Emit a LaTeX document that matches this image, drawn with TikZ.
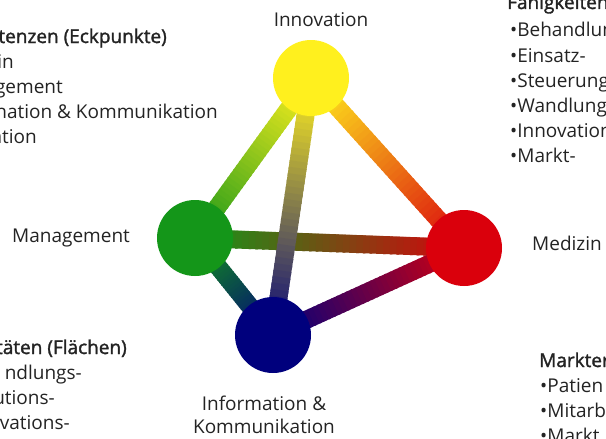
\documentclass[tikz,border=0pt]{standalone}
\usepackage{fontspec}
\setmainfont{Open Sans}
\newfontfamily\headfont[FakeBold=1.6]{Open Sans}
\usepackage{tikz}
\usetikzlibrary{calc}
\usetikzlibrary{positioning}

\definecolor{innoyellow}{RGB}{255,240,30}
\definecolor{mgmtgreen}{RGB}{20,150,25}
\definecolor{medred}{RGB}{218,0,12}
\definecolor{iukblue}{RGB}{0,0,125}
\definecolor{txtgrey}{RGB}{35,35,35}

\tikzset{
	vertex/.style={circle,minimum size=76pt,inner sep=0pt,draw=none},
	edgeline/.style={line width=18pt},
	lbl/.style={font=\fontsize{19}{23}\selectfont,inner sep=0pt,text=txtgrey},
	hdr/.style={lbl,font=\fontsize{19}{23}\selectfont\headfont}
}
% edge with colour running from #3 at node #1 to #4 at node #2
\newcommand{\gradedge}[4]{%
	\foreach \k in {0,...,39}{
		\pgfmathsetmacro{\pa}{\k/40}
		\pgfmathsetmacro{\pb}{min(1,(\k+1.4)/40)}
		\pgfmathsetmacro{\mix}{100-\k*2.5}
		\draw[edgeline,draw=#3!\mix!#4] ($(#1)!\pa!(#2)$) -- ($(#1)!\pb!(#2)$);
	}}

\begin{document}
\begin{tikzpicture}[x=1pt,y=-1pt]
  \useasboundingbox (0,0) rectangle (606,439);
  \clip (0,0) rectangle (606,439);

  % tetraeder
  \coordinate (inno) at (311,78);
  \coordinate (mgmt) at (195,238);
  \coordinate (med) at (464,248);
  \coordinate (iuk) at (273,335);

  \gradedge{inno}{mgmt}{innoyellow}{mgmtgreen}
  \gradedge{inno}{med}{innoyellow}{medred}
  \gradedge{mgmt}{med}{mgmtgreen}{medred}
  \gradedge{inno}{iuk}{innoyellow}{iukblue}
  \gradedge{mgmt}{iuk}{mgmtgreen}{iukblue}
  \gradedge{iuk}{med}{iukblue}{medred}

  \node[vertex,fill=innoyellow] (innoDot) at (inno) {};
  \node[vertex,fill=mgmtgreen] (mgmtDot) at (mgmt) {};
  \node[vertex,fill=medred] (medDot) at (med) {};
  \node[vertex,fill=iukblue] (iukDot) at (iuk) {};

  \node[lbl,anchor=base] (innoLbl) at (321,27) {Innovation};
  \node[lbl,anchor=base west] (mgmtLbl) at (12,242) {Management};
  \node[lbl,anchor=base west] (medLbl) at (532,250) {Medizin};
  \node[lbl,anchor=north,align=center] (iukLbl) at (264,396) {Information \&\\Kommunikation};

  % Kompetenzen
  \node[hdr,anchor=base east] (kompHdr) at (167,43) {tenzen (Eckpunkte)};
  \node[lbl,anchor=base east] (kompA) at (14,68) {in};
  \node[lbl,anchor=base east] (kompB) at (63,93) {gement};
  \node[lbl,anchor=base east] (kompC) at (218,118) {nation \& Kommunikation};
  \node[lbl,anchor=base east] (kompD) at (37,143) {ation};

  % Flaechen
  \node[hdr,anchor=base east] (flaHdr) at (127,354) {täten (Flächen)};
  \node[lbl,anchor=base east] (flaA) at (82,379) {ndlungs-};
  \node[lbl,anchor=base east] (flaB) at (55,404) {utions-};
  \node[lbl,anchor=base east] (flaC) at (70,429) {vations-};

  % Faehigkeiten
  \node[hdr,anchor=base west] (faeHdr) at (507,9) {Fähigkeiten};
  \node[lbl,anchor=base west] (faeA) at (510,37) {•Behandlun};
  \node[lbl,anchor=base west] (faeB) at (510,62) {•Einsatz-};
  \node[lbl,anchor=base west] (faeC) at (510,87) {•Steuerung};
  \node[lbl,anchor=base west] (faeD) at (510,112) {•Wandlung};
  \node[lbl,anchor=base west] (faeE) at (510,137) {•Innovation};
  \node[lbl,anchor=base west] (faeF) at (510,162) {•Markt-};

  % Markterfolg
  \node[hdr,anchor=base west] (mktHdr) at (539,367) {Markter};
  \node[lbl,anchor=base west] (mktA) at (540,392) {•Patien};
  \node[lbl,anchor=base west] (mktB) at (540,417) {•Mitarb};
  \node[lbl,anchor=base west] (mktC) at (540,442) {•Markt};
\end{tikzpicture}
\end{document}
